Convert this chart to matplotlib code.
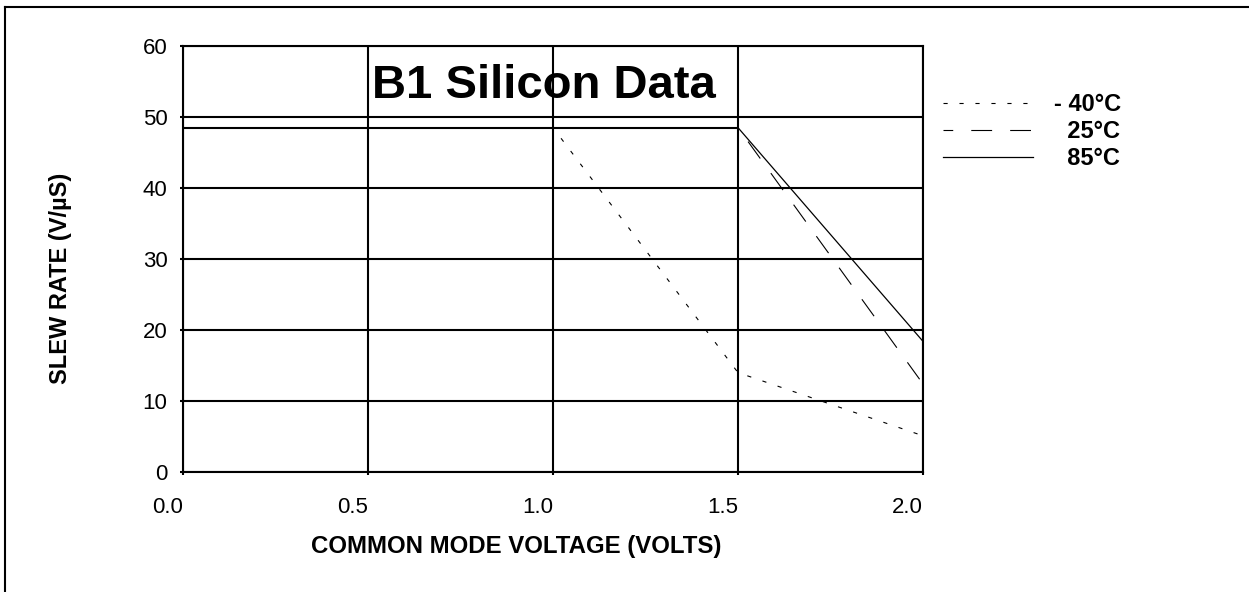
import matplotlib
matplotlib.use("Agg")
import matplotlib.pyplot as plt
from matplotlib.lines import Line2D

# ---- data ----
voltage = [0.0, 0.5, 1.0, 1.5, 2.0]
slew_m40 = [48.5, 48.5, 48.5, 14.0, 5.1]
slew_25 = [48.5, 48.5, 48.5, 48.5, 12.4]
slew_85 = [48.5, 48.5, 48.5, 48.5, 18.4]
series_labels = ["- 40\u00b0C", "  25\u00b0C", "  85\u00b0C"]
x_ticks = [0.0, 0.5, 1.0, 1.5, 2.0]
x_tick_labels = ["0.0", "0.5", "1.0", "1.5", "2.0"]
y_ticks = [0, 10, 20, 30, 40, 50, 60]
y_tick_labels = ["0", "10", "20", "30", "40", "50", "60"]
title_text = "B1 Silicon Data"
x_label = "COMMON MODE VOLTAGE (VOLTS)"
y_label = "SLEW RATE (V/\u00b5S)"

plt.rcParams["font.family"] = ["Liberation Sans", "DejaVu Sans"]
plt.rcParams["lines.scale_dashes"] = False

W, H = 1249, 592
fig = plt.figure(figsize=(W / 100, H / 100), dpi=100)
fig.patch.set_facecolor("white")
ax = fig.add_axes([183 / W, (H - 472) / H, 740 / W, 426 / H])

ax.set_xlim(0, 2.0)
ax.set_ylim(0, 60)

ax.plot(voltage, slew_m40, color="black", lw=0.8, linestyle=(0, (3, 8.5)),
        label=series_labels[0], zorder=3)
ax.plot(voltage, slew_25, color="black", lw=0.8, linestyle=(8, (15, 13)),
        label=series_labels[1], zorder=3)
ax.plot(voltage, slew_85, color="black", lw=0.9, linestyle="-",
        label=series_labels[2], zorder=3)
# where all three curves coincide (saturated part) the overlapping traces
# read as a heavier line
n_flat = sum(1 for a, b in zip(slew_25, slew_85) if a == b)
ax.plot(voltage[:n_flat], slew_85[:n_flat], color="black", lw=1.5,
        solid_capstyle="butt", zorder=3)

ax.set_xticks(x_ticks, x_tick_labels)
ax.set_yticks(y_ticks, y_tick_labels)
for t in ax.get_xticklabels():
    t.set_horizontalalignment("right")
ax.tick_params(axis="x", direction="out", length=2.2, width=1.5, pad=16,
               labelsize=16, colors="black")
ax.tick_params(axis="y", direction="out", length=2.2, width=1.5, pad=9,
               labelsize=16, colors="black")
ax.grid(True, color="black", lw=1.5, zorder=1)
ax.set_axisbelow(True)
for s in ax.spines.values():
    s.set_linewidth(1.5)
    s.set_color("black")

ax.set_xlabel(x_label, fontsize=17.3, fontweight="bold", va="center")
ax.xaxis.set_label_coords(0.45, -0.175)
ax.set_ylabel(y_label, fontsize=17, fontweight="bold", va="center")
ax.yaxis.set_label_coords(-0.165, 0.455)

ax.text(0.487, 0.877, title_text, transform=ax.transAxes, ha="center",
        va="baseline", fontsize=34, fontweight="bold", zorder=4)

leg = ax.legend(loc="upper left", bbox_to_anchor=(943 / W, 1 - 93 / H),
                bbox_transform=fig.transFigure, frameon=False, borderpad=0,
                borderaxespad=0, handlelength=3.8, handletextpad=0.9,
                labelspacing=0.17, prop={"size": 17, "weight": "bold"})

# outer frame (left and top edges visible)
fig.add_artist(Line2D([5 / W, 5 / W], [0, 1 - 7 / H], transform=fig.transFigure,
                      color="black", lw=1.5))
fig.add_artist(Line2D([5 / W, 1], [1 - 7 / H, 1 - 7 / H], transform=fig.transFigure,
                      color="black", lw=1.5))

fig.savefig("out.png", dpi=100, facecolor="white")
